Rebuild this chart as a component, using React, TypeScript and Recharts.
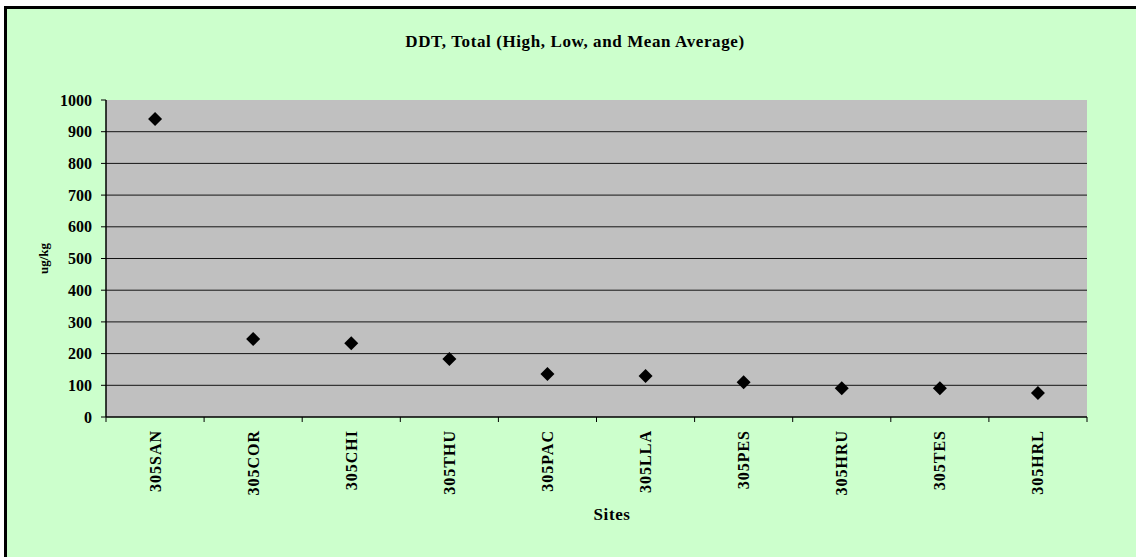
import { ComposedChart, Scatter, XAxis, YAxis, CartesianGrid } from "recharts"

const sites = ["305SAN", "305COR", "305CHI", "305THU", "305PAC", "305LLA", "305PES", "305HRU", "305TES", "305HRL"]
const meanValues = [940, 246, 233, 183, 136, 129, 110, 91, 91, 76]
const yTicks = [0, 100, 200, 300, 400, 500, 600, 700, 800, 900, 1000]
const gridValues = [100, 200, 300, 400, 500, 600, 700, 800, 900]

const chartData = sites.map((site, i) => ({ site, value: meanValues[i] }))

const FONT = "'Liberation Serif', 'Times New Roman', serif"
const LABEL_GAP = 13

// site label plus Excel-style tick marks on the band edges
const SiteTick = ({ x, y, payload, index }: any) => {
  const half = payload?.offset ?? 0
  const axisY = y - LABEL_GAP
  return (
    <g>
      <line x1={x - half} x2={x - half} y1={axisY} y2={axisY + 5} stroke="#000" />
      {index === sites.length - 1 && <line x1={x + half} x2={x + half} y1={axisY} y2={axisY + 5} stroke="#000" />}
      <text
        x={x}
        y={y}
        transform={`rotate(-90, ${x}, ${y})`}
        textAnchor="end"
        dominantBaseline="central"
        fontFamily={FONT}
        fontWeight="bold"
        fontSize={16}
        letterSpacing={1}
        fill="#000"
      >
        {payload.value}
      </text>
    </g>
  )
}

const Diamond = ({ cx, cy }: any) => {
  const r = 7
  return <polygon points={`${cx},${cy - r} ${cx + r},${cy} ${cx},${cy + r} ${cx - r},${cy}`} fill="#000" />
}

export default function App() {
  return (
    <div style={{ position: "fixed", left: 0, top: 0, width: 1136, height: 557, background: "#fff", overflow: "hidden" }}>
      <div
        style={{
          position: "absolute",
          left: 4,
          top: 6,
          width: 1132,
          height: 551,
          boxSizing: "border-box",
          background: "#CCFFCC",
          borderTop: "3px solid #000",
          borderLeft: "3px solid #000",
        }}
      />
      <div
        style={{
          position: "absolute",
          top: 32,
          left: 575,
          transform: "translateX(-50%)",
          whiteSpace: "nowrap",
          fontFamily: FONT,
          fontWeight: "bold",
          fontSize: 17,
          letterSpacing: 0.6,
        }}
      >
        DDT, Total (High, Low, and Mean Average)
      </div>
      <div
        style={{
          position: "absolute",
          top: 505,
          left: 612,
          transform: "translateX(-50%)",
          fontFamily: FONT,
          fontWeight: "bold",
          fontSize: 17,
          letterSpacing: 0.6,
        }}
      >
        Sites
      </div>
      <div style={{ position: "absolute", left: 0, top: 0 }}>
        <ComposedChart width={1136} height={557} data={chartData} margin={{ top: 100, right: 49, bottom: 50, left: 30 }}>
          <CartesianGrid
            xAxisId="cat"
            yAxisId="main"
            horizontal
            vertical={false}
            horizontalValues={gridValues}
            stroke="#000"
            strokeOpacity={0.9}
            fill="#C0C0C0"
            fillOpacity={1}
          />
          <XAxis
            xAxisId="cat"
            dataKey="site"
            type="category"
            scale="band"
            interval={0}
            tick={<SiteTick />}
            tickLine={false}
            tickSize={0}
            tickMargin={LABEL_GAP}
            axisLine={{ stroke: "#000", strokeWidth: 1.5 }}
            height={90}
          />
          <XAxis
            xAxisId="top"
            orientation="top"
            type="number"
            domain={[0, 1]}
            allowDataOverflow
            tick={false}
            tickLine={false}
            axisLine={{ stroke: "#808080" }}
            height={0}
          />
          <YAxis
            yAxisId="right"
            orientation="right"
            type="number"
            domain={[0, 1000]}
            allowDataOverflow
            tick={false}
            tickLine={false}
            axisLine={{ stroke: "#808080" }}
            width={0}
          />
          <YAxis
            yAxisId="main"
            type="number"
            domain={[0, 1000]}
            ticks={yTicks}
            interval={0}
            width={76}
            tickSize={5}
            tickMargin={9}
            tickLine={{ stroke: "#000" }}
            axisLine={{ stroke: "#000", strokeWidth: 1.5 }}
            tick={{ fill: "#000", fontFamily: FONT, fontWeight: "bold", fontSize: 16 }}
            label={{
              value: "ug/kg",
              angle: -90,
              position: "insideLeft",
              offset: 13,
              style: { textAnchor: "middle", fontFamily: FONT, fontWeight: "bold", fontSize: 13, fill: "#000" },
            }}
          />
          <Scatter
            xAxisId="cat"
            yAxisId="main"
            dataKey="value"
            shape={<Diamond />}
            isAnimationActive={false}
          />
        </ComposedChart>
      </div>
    </div>
  )
}
